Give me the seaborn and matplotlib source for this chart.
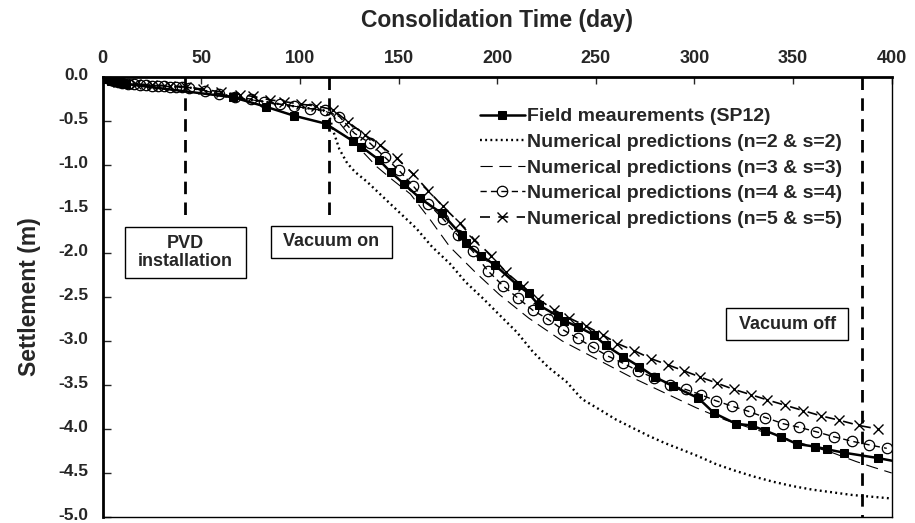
import matplotlib
matplotlib.use("Agg")
import matplotlib.pyplot as plt
import matplotlib.transforms as mtransforms
import seaborn as sns
import numpy as np
from matplotlib.patches import Rectangle

sns.set_theme(style="white")
plt.rcParams['font.family'] = ['Liberation Sans', 'DejaVu Sans']
plt.rcParams['font.weight'] = 'bold'
plt.rcParams['axes.unicode_minus'] = False

# ---------------- data ----------------
field_day = [0, 2, 4, 6, 8, 10, 12, 66, 83, 97, 113, 127, 131, 140, 146, 153, 161, 172, 182, 184,
             192, 199, 210, 216, 221, 231, 234, 241, 249, 255, 264, 272, 280, 289, 302, 310, 321,
             329, 336, 344, 352, 361, 367, 376, 393, 400]
field_val = [0, -0.02, -0.04, -0.05, -0.06, -0.07, -0.08, -0.23, -0.34, -0.44, -0.53, -0.73, -0.79,
             -0.94, -1.08, -1.22, -1.38, -1.55, -1.80, -1.89, -2.03, -2.14, -2.36, -2.46, -2.59,
             -2.72, -2.77, -2.84, -2.93, -3.05, -3.18, -3.29, -3.41, -3.51, -3.65, -3.82, -3.94,
             -3.96, -4.02, -4.09, -4.17, -4.20, -4.23, -4.27, -4.33, -4.36]

n2_day = [0, 10, 20, 44, 67, 90, 112, 115, 117, 120, 124, 128, 134, 142, 150, 159, 167, 176, 184,
          193, 201, 210, 218, 226, 235, 243, 252, 260, 268, 277, 285, 293, 302, 311, 320, 330, 340,
          350, 360, 370, 380, 390, 400]
n2_val = [0, -0.07, -0.09, -0.12, -0.23, -0.31, -0.38, -0.45, -0.62, -0.82, -0.98, -1.08, -1.19,
          -1.36, -1.53, -1.72, -1.93, -2.12, -2.33, -2.52, -2.70, -2.90, -3.12, -3.30, -3.46, -3.66,
          -3.78, -3.89, -3.98, -4.08, -4.16, -4.23, -4.31, -4.40, -4.47, -4.54, -4.60, -4.65, -4.69,
          -4.72, -4.75, -4.77, -4.79]

n3_day = [0, 10, 20, 44, 67, 90, 112, 116, 120, 125, 131, 139, 147, 156, 166, 176, 189, 201, 216,
          233, 250, 267, 284, 301, 316, 330, 345, 360, 370, 382, 390, 400]
n3_val = [0, -0.07, -0.09, -0.12, -0.23, -0.31, -0.38, -0.42, -0.52, -0.66, -0.83, -1.02, -1.17,
          -1.33, -1.62, -1.93, -2.22, -2.47, -2.74, -3.00, -3.20, -3.40, -3.58, -3.76, -3.90, -4.00,
          -4.10, -4.20, -4.27, -4.37, -4.43, -4.50]

n4_day = [0, 2, 4, 6, 8, 10, 13, 16, 19, 22, 25, 28, 31, 34, 37, 40, 44, 52, 59, 67, 75, 82, 90,
          97, 105, 112.6, 120, 127.7, 135.4, 143, 150.2, 157.5, 165, 172.5, 180, 187.6, 195.2,
          202.8, 210.4, 218, 225.6, 233.2, 240.8, 248.4, 256, 263.6, 271.5, 279.5, 287.5, 295.5,
          303.2, 311, 319, 327.5, 336, 345, 353, 361.5, 371, 380, 388.5, 397.5]
n4_val = [0, -0.01, -0.03, -0.05, -0.06, -0.07, -0.08, -0.085, -0.09, -0.095, -0.10, -0.10, -0.105,
          -0.11, -0.11, -0.115, -0.12, -0.16, -0.19, -0.23, -0.25, -0.28, -0.31, -0.33, -0.36,
          -0.38, -0.45, -0.64, -0.75, -0.91, -1.06, -1.24, -1.44, -1.61, -1.80, -1.98, -2.20,
          -2.37, -2.51, -2.65, -2.75, -2.87, -2.97, -3.07, -3.17, -3.25, -3.34, -3.42, -3.50,
          -3.55, -3.61, -3.68, -3.74, -3.80, -3.87, -3.94, -3.98, -4.03, -4.09, -4.14, -4.18, -4.22]

n5_day = [0, 8, 17, 25, 34, 42, 51, 60, 69.5, 76, 84.7, 92, 100.7, 108.3, 116.6, 124.4, 133, 140.4,
          149, 157.3, 165, 172.5, 181, 188.5, 197, 204.6, 213, 220.6, 229, 236.6, 245, 253.5, 261,
          269.5, 277.9, 286.4, 294.8, 303, 311.5, 320, 328.6, 337, 346, 355, 364, 373.4, 383.4, 393]
n5_val = [0, -0.06, -0.08, -0.09, -0.10, -0.11, -0.14, -0.17, -0.20, -0.22, -0.26, -0.28, -0.31,
          -0.33, -0.37, -0.51, -0.66, -0.77, -0.92, -1.10, -1.29, -1.47, -1.66, -1.85, -2.03,
          -2.22, -2.38, -2.52, -2.65, -2.74, -2.83, -2.93, -3.03, -3.11, -3.20, -3.27, -3.34,
          -3.41, -3.48, -3.55, -3.61, -3.67, -3.73, -3.79, -3.85, -3.90, -3.96, -4.00]

labels = ["Field meaurements (SP12)",
          "Numerical predictions (n=2 & s=2)",
          "Numerical predictions (n=3 & s=3)",
          "Numerical predictions (n=4 & s=4)",
          "Numerical predictions (n=5 & s=5)"]

x_ticks = [0, 50, 100, 150, 200, 250, 300, 350, 400]
y_ticks = [0.0, -0.5, -1.0, -1.5, -2.0, -2.5, -3.0, -3.5, -4.0, -4.5, -5.0]

events = ["PVD\ninstallation", "Vacuum on", "Vacuum off"]
event_day = [41.7, 114.7, 385]

# ---------------- figure ----------------
fig = plt.figure(figsize=(9.15, 5.23), dpi=100)
ax = fig.add_axes([0.1122, 0.0115, 0.8623, 0.8413])

common = dict(estimator=None, sort=False, ax=ax, color='black', legend=False)
sns.lineplot(x=field_day, y=field_val, lw=1.8, marker='s', markersize=5.2, mfc='black',
             mec='black', markevery=slice(0, len(field_day) - 1), label=labels[0], **common)
sns.lineplot(x=n2_day, y=n2_val, lw=1.7, linestyle=(0, (0.8, 1.4)), label=labels[1], **common)
sns.lineplot(x=n3_day, y=n3_val, lw=0.8, linestyle=(0, (11, 6)), label=labels[2], **common)
sns.lineplot(x=n4_day, y=n4_val, lw=1.0, linestyle=(0, (4.5, 3)), marker='o', markersize=7.5,
             mfc='none', mec='black', mew=0.9, label=labels[3], **common)
sns.lineplot(x=n5_day, y=n5_val, lw=1.2, linestyle=(0, (6, 5)), marker='x', markersize=6.5,
             mec='black', mew=1.0, label=labels[4], **common)

# event lines
ends = [-1.64, -1.64, -5.0]
for d, e in zip(event_day, ends):
    ax.plot([d, d], [0, e], color='black', lw=2.0, linestyle=(0, (4.5, 3)), zorder=1)

# event boxes (annotation positions)
boxes = [(11.3, -2.284, 61.6, 0.579), (85.1, -2.053, 61.7, 0.360), (316.0, -2.992, 62.0, 0.370)]
for (bx, by, bw, bh), txt in zip(boxes, events):
    ax.add_patch(Rectangle((bx, by), bw, bh, facecolor='white', edgecolor='black', lw=1.0, zorder=4))
    ax.text(bx + bw / 2, by + bh / 2, txt, ha='center', va='center', fontsize=13,
            fontweight='bold', zorder=5, linespacing=1.15)

ax.set_xlim(0, 400)
ax.set_ylim(-5.0, 0.0)
ax.xaxis.tick_top()
ax.xaxis.set_label_position('top')
ax.set_xticks(x_ticks)
ax.set_xticklabels([str(t) for t in x_ticks], fontsize=13, fontweight='bold')
ax.set_yticks(y_ticks)
ax.set_yticklabels([f"{t:.1f}" for t in y_ticks], fontsize=12.5, fontweight='bold')
ax.tick_params(axis='x', direction='in', length=5, width=1.0, pad=7, top=True, bottom=False)
ax.tick_params(axis='y', direction='in', length=6, width=1.0, pad=10.5, left=True)
ax.set_xlabel("Consolidation Time (day)", fontsize=16.5, fontweight='bold', labelpad=17)
ax.set_ylabel("Settlement (m)", fontsize=16.5, fontweight='bold', labelpad=12)

# nudge y tick labels up slightly so the bottom one stays inside the canvas
shift = mtransforms.ScaledTranslation(0, 2.5 / 72, fig.dpi_scale_trans)
for lbl in ax.get_yticklabels():
    lbl.set_transform(lbl.get_transform() + shift)

for s in ['left', 'top']:
    ax.spines[s].set_linewidth(2.0)
    ax.spines[s].set_color('black')
for s in ['right', 'bottom']:
    ax.spines[s].set_linewidth(1.0)
    ax.spines[s].set_color('black')

leg = ax.legend(loc='upper left', bbox_to_anchor=(0.478, 0.930), frameon=False,
                handlelength=2.3, handletextpad=0.12, labelspacing=0.41, borderpad=0,
                borderaxespad=0, numpoints=1, prop={'weight': 'bold', 'size': 14})

fig.savefig("out.png", dpi=100)
